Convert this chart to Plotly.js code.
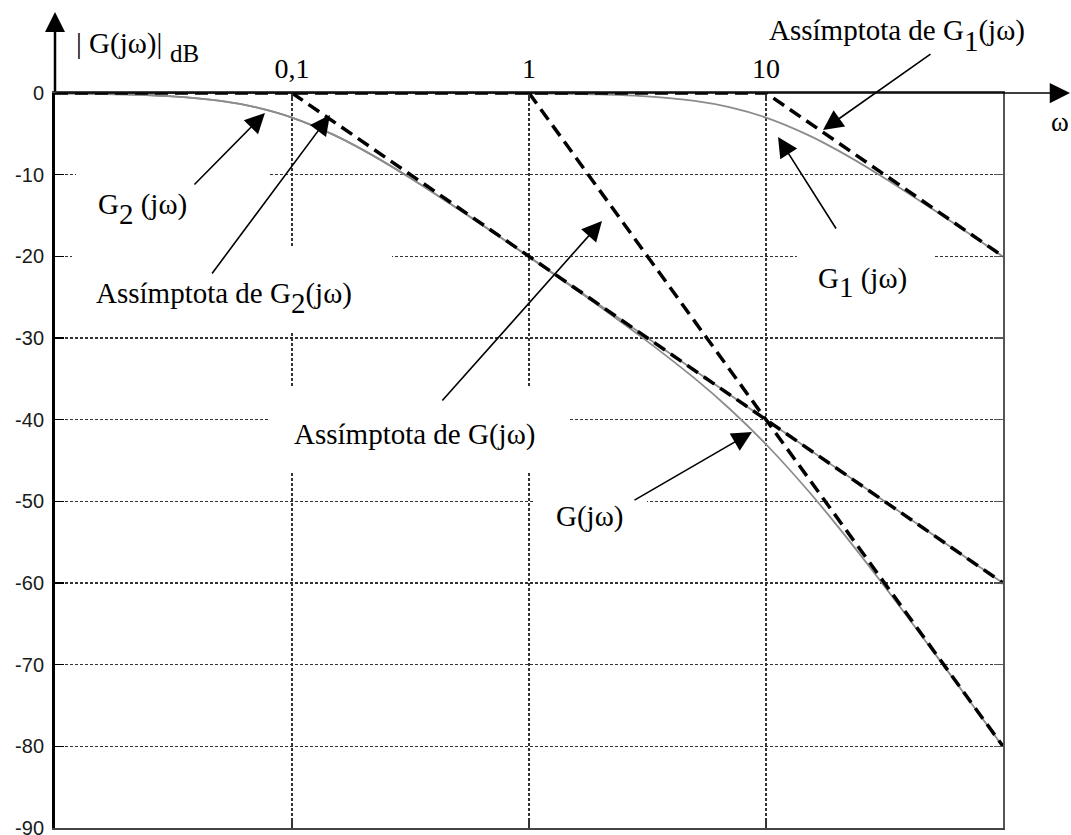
<!DOCTYPE html>
<html>
<head>
<meta charset="utf-8">
<script src="https://cdn.plot.ly/plotly-3.0.1.min.js"></script>
<style>html,body{margin:0;padding:0;background:#fff;}</style>
</head>
<body>
<div id="chart" style="width:1071px;height:835px;"></div>
<script>
// Angular frequency samples (rad/s), four decades
const omega = [0.01, 0.02, 0.03, 0.05, 0.07, 0.1, 0.15, 0.2, 0.3, 0.5, 0.7, 1,
               1.5, 2, 3, 5, 7, 10, 15, 20, 30, 50, 70, 100];

// |G1(jω)| in dB, first-order lag with its corner at ω = 10
const g1Db = [0, 0, 0, 0, 0, 0, -0.001, -0.002, -0.004, -0.011, -0.021, -0.043,
              -0.097, -0.17, -0.374, -0.969, -1.732, -3.01, -5.12, -6.99, -10.0, -14.15, -16.99, -20.04];

// |G2(jω)| in dB, first-order lag with its corner at ω = 0,1
const g2Db = [-0.043, -0.17, -0.374, -0.969, -1.732, -3.01, -5.12, -6.99, -10.0, -14.15, -16.99, -20.04,
              -23.54, -26.03, -29.55, -33.98, -36.9, -40.0, -43.52, -46.02, -49.54, -53.98, -56.9, -60.0];

// |G(jω)| = |G1(jω)| + |G2(jω)| in dB
const gDb = [-0.043, -0.17, -0.374, -0.969, -1.732, -3.01, -5.12, -6.99, -10.0, -14.16, -17.01, -20.08,
             -23.64, -26.2, -29.92, -34.95, -38.63, -43.01, -48.64, -53.01, -59.54, -68.13, -73.89, -80.04];

// Straight-line asymptotes
const g1AsymW = [0.01, 10, 100];
const g1AsymDb = [0, 0, -20];
const g2AsymW = [0.1, 100];
const g2AsymDb = [0, -60];
const gAsymW = [1, 100];
const gAsymDb = [0, -80];

// Axis ticks
const omegaTicks = [0.1, 1, 10];
const omegaTickText = ['0,1', '1', '10'];
const dbTicks = [0, -10, -20, -30, -40, -50, -60, -70, -80, -90];
const dbTickText = ['0', '-10', '-20', '-30', '-40', '-50', '-60', '-70', '-80', '-90'];

const SERIF = 'Liberation Serif, Times New Roman, serif';
const SANS = 'Liberation Sans, Arial, sans-serif';
const lg = Math.log10;
const sub = (d, shift) => `<span style="baseline-shift:-${shift}px">${d}</span>`;

const grayLine = {color: '#8c8c8c', width: 1.8, shape: 'spline'};
const asymLine = {color: '#000', width: 3.5, dash: '13px,7px'};

const traces = [
  {x: omega, y: g2Db, mode: 'lines', line: grayLine, cliponaxis: false},
  {x: omega, y: g1Db, mode: 'lines', line: grayLine, cliponaxis: false},
  {x: omega, y: gDb, mode: 'lines', line: grayLine, cliponaxis: false},
  {x: g2AsymW, y: g2AsymDb, mode: 'lines', line: asymLine, cliponaxis: false},
  {x: gAsymW, y: gAsymDb, mode: 'lines', line: asymLine, cliponaxis: false},
  // drawn against the right-hand frame axis (same scale)
  {x: g1AsymW, y: g1AsymDb, mode: 'lines', line: asymLine, cliponaxis: false, yaxis: 'y2'}
];

// Curve labels: left edge (ω) and top (dB)
const labels = [
  {text: 'G' + sub('2', 10) + ' (jω)', w: 0.01503, db: -11.51},
  {text: 'Assímptota de G' + sub('2', 10) + '(jω)', w: 0.01476, db: -22.41},
  {text: 'Assímptota de G(jω)', w: 0.1009, db: -39.67},
  {text: 'G(jω)', w: 1.288, db: -49.71},
  {text: 'G' + sub('1', 9) + ' (jω)', w: 16.41, db: -20.57}
];

// Pointer arrows: head (ω, dB) and tail (ω, dB)
const pointers = [
  {w: 0.0769, db: -2.45, tw: 0.0382, tdb: -11.39},
  {w: 0.1446, db: -2.69, tw: 0.0455, tdb: -22.28},
  {w: 2.032, db: -15.67, tw: 0.4253, tdb: -37.84},
  {w: 8.728, db: -41.51, tw: 2.747, tdb: -49.96},
  {w: 11.24, db: -5.39, tw: 19.93, tdb: -16.78},
  {w: 17.40, db: -4.53, tw: 50.16, tdb: 4.90}
];

// White label backgrounds that interrupt the grid: [ω0, ω1, dB0, dB1]
const labelBoxes = [
  [0.01227, 0.0800, -6.98, -17.02],
  [0.01180, 0.2642, -18.86, -29.26],
  [0.0808, 1.461, -36.12, -46.53],
  [1.040, 3.147, -47.39, -55.35],
  [13.51, 50.66, -18.0, -27.8]
];

const annotations = [];
labels.forEach(l => annotations.push({
  xref: 'x', yref: 'y', x: lg(l.w), y: l.db, text: l.text, showarrow: false,
  xanchor: 'left', yanchor: 'top', borderpad: 0,
  font: {family: SERIF, size: 29, color: '#000'}
}));
pointers.forEach(p => annotations.push({
  xref: 'x', yref: 'y', x: lg(p.w), y: p.db, axref: 'x', ayref: 'y', ax: lg(p.tw), ay: p.tdb,
  text: '', showarrow: true, arrowhead: 2, arrowsize: 2.5, arrowwidth: 1.6,
  arrowcolor: '#000', standoff: 0, startstandoff: 0
}));
// Texts outside the plotting area
annotations.push(
  {xref: 'paper', yref: 'paper', x: 0.7521, y: 1.1093, xanchor: 'left', yanchor: 'top', showarrow: false,
   borderpad: 0, text: 'Assímptota de G' + sub('1', 11) + '(jω)', font: {family: SERIF, size: 29, color: '#000'}},
  {xref: 'paper', yref: 'paper', x: 0.0211, y: 1.0912, xanchor: 'left', yanchor: 'top', showarrow: false,
   borderpad: 0, text: '| G(jω)|', font: {family: SERIF, size: 29, color: '#000'}},
  {xref: 'paper', yref: 'paper', x: 0.1203, y: 1.0735, xanchor: 'left', yanchor: 'top', showarrow: false,
   borderpad: 0, text: 'dB', font: {family: SERIF, size: 25, color: '#000'}},
  {xref: 'paper', yref: 'paper', x: 1.0495, y: 0.9823, xanchor: 'left', yanchor: 'top', showarrow: false,
   borderpad: 0, text: 'ω', font: {family: SERIF, size: 27, color: '#000'}},
  // axis arrows
  {xref: 'paper', yref: 'paper', x: 0, y: 1.1102, axref: 'pixel', ayref: 'pixel', ax: 0, ay: 81,
   text: '', showarrow: true, arrowhead: 2, arrowsize: 1.6, arrowwidth: 2.5, arrowcolor: '#000', standoff: 0},
  {xref: 'paper', yref: 'paper', x: 1.0738, y: 1, axref: 'pixel', ayref: 'pixel', ax: -1018, ay: 0,
   text: '', showarrow: true, arrowhead: 2, arrowsize: 2.7, arrowwidth: 1.5, arrowcolor: '#000', standoff: 0}
);

const shapes = labelBoxes.map(b => ({
  type: 'rect', xref: 'x', yref: 'y', x0: b[0], x1: b[1], y0: b[2], y1: b[3],
  fillcolor: '#fff', line: {width: 0}, layer: 'between'
}));

const gridStyle = {showgrid: true, gridcolor: '#333', gridwidth: 1.4, griddash: '3px,2px'};

const layout = {
  width: 1071, height: 835,
  margin: {l: 55, r: 68, t: 93, b: 7},
  paper_bgcolor: '#fff', plot_bgcolor: '#fff',
  showlegend: false,
  xaxis: Object.assign({
    type: 'log', range: [-2, 2], side: 'top',
    tickmode: 'array', tickvals: omegaTicks, ticktext: omegaTickText,
    ticks: 'inside', ticklen: 8, tickwidth: 1.5, tickcolor: '#333',
    showline: true, linecolor: '#444', linewidth: 2, mirror: 'ticks',
    zeroline: false, ticklabelstandoff: 2,
    tickfont: {family: SERIF, size: 28, color: '#000'}
  }, gridStyle),
  yaxis: Object.assign({
    range: [-90, 0], tickmode: 'array', tickvals: dbTicks, ticktext: dbTickText,
    ticks: 'inside', ticklen: 9, tickwidth: 1.5, tickcolor: '#000',
    showline: true, linecolor: '#000', linewidth: 3,
    zeroline: false, ticklabelstandoff: 4, ticklabeloverflow: 'allow',
    tickfont: {family: SANS, size: 20, color: '#1a1a1a'}
  }, gridStyle),
  yaxis2: {
    overlaying: 'y', side: 'right', range: [-90, 0],
    tickmode: 'array', tickvals: dbTicks, showticklabels: false,
    ticks: 'inside', ticklen: 9, tickwidth: 1.5, tickcolor: '#555',
    showline: true, linecolor: '#555', linewidth: 2, showgrid: false, zeroline: false
  },
  annotations: annotations,
  shapes: shapes
};

Plotly.newPlot('chart', traces, layout, {staticPlot: true, displayModeBar: false});
</script>
</body>
</html>
